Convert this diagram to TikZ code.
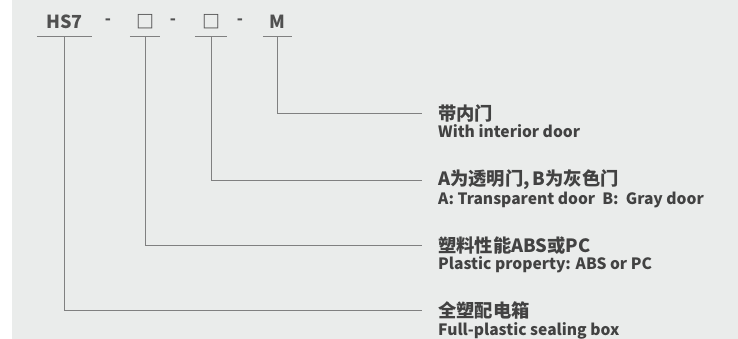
\documentclass[tikz,border=0pt]{standalone}
\usepackage{fontspec}
\setmainfont{Noto Sans CJK SC}
\newfontfamily\cjk{Noto Sans CJK SC}
\usetikzlibrary{positioning}
\definecolor{BGgray}{HTML}{EAECEB}
\definecolor{TXTgray}{HTML}{424242}
\definecolor{HDgray}{HTML}{505050}
\definecolor{LNgray}{HTML}{808080}

\begin{document}
\begin{tikzpicture}[x=1pt, y=-1pt]

%% ── helpers ───────────────────────────────────────────────
\tikzset{
  code/.style={font=\cjk\bfseries\fontsize{18}{18}\selectfont, text=HDgray,
               inner sep=0pt, minimum height=29pt, minimum width=#1},
  sep/.style={font=\cjk\bfseries\fontsize{16}{16}\selectfont, text=HDgray, inner sep=0pt},
  cnlab/.style={font=\cjk\bfseries\fontsize{18.3}{18.3}\selectfont, text=TXTgray,
                anchor=west, inner sep=0pt, inner xsep=16pt},
  enlab/.style={font=\cjk\bfseries\fontsize{15.6}{15.6}\selectfont, text=TXTgray,
                anchor=north west, inner sep=0pt, inner xsep=16pt},
  lead/.style={draw=LNgray, line width=0.9pt},
}

%% ── canvas ──
\useasboundingbox (0,0) rectangle (738,339);
\fill[BGgray] (12,0) rectangle (738,339);

%% ── model code (top row) ─────────────────────────────────
\node[code=55pt] (hs)   at (64.5,21.5) {HS7};
\node[sep]       (dsa)  at (108,21.5)  {-};
\node[code=30pt] (boxa) at (145,21.5)  {□};
\node[sep]       (dsb)  at (173,21.5)  {-};
\node[code=32pt] (boxb) at (211,21.5)  {□};
\node[sep]       (dsc)  at (240,21.5)  {-};
\node[code=29pt] (md)   at (277.5,21.5){M};

\foreach \src in {hs,boxa,boxb,md}
  \draw[lead] (\src.south west) -- (\src.south east);

%% ── explanations (right column) ─────────────────────────
\node[cnlab] (cnm) at (422,113.5) {带内门};
\node[enlab] (enm) at ([yshift=-2pt]cnm.south west) {With interior door};

\node[cnlab] (cnb) at (422,180) {A为透明门,\,B为灰色门};
\node[enlab] (enb) at ([yshift=-2pt]cnb.south west) {A: Transparent door\ \ B:\ \ Gray door};

\node[cnlab] (cna) at (422,245.5) {塑料性能ABS或PC};
\node[enlab] (ena) at ([yshift=-2pt]cna.south west) {Plastic property: ABS or PC};

\node[cnlab] (cnh) at (422,310) {全塑配电箱};
\node[enlab] (enh) at ([yshift=-3pt]cnh.south west) {Full-plastic sealing box};

%% ── leader lines ──
\foreach \src/\dst in {md/cnm, boxb/cnb, boxa/cna, hs/cnh}
  \draw[lead] (\src.south) |- (\dst.west);

\end{tikzpicture}
\end{document}
